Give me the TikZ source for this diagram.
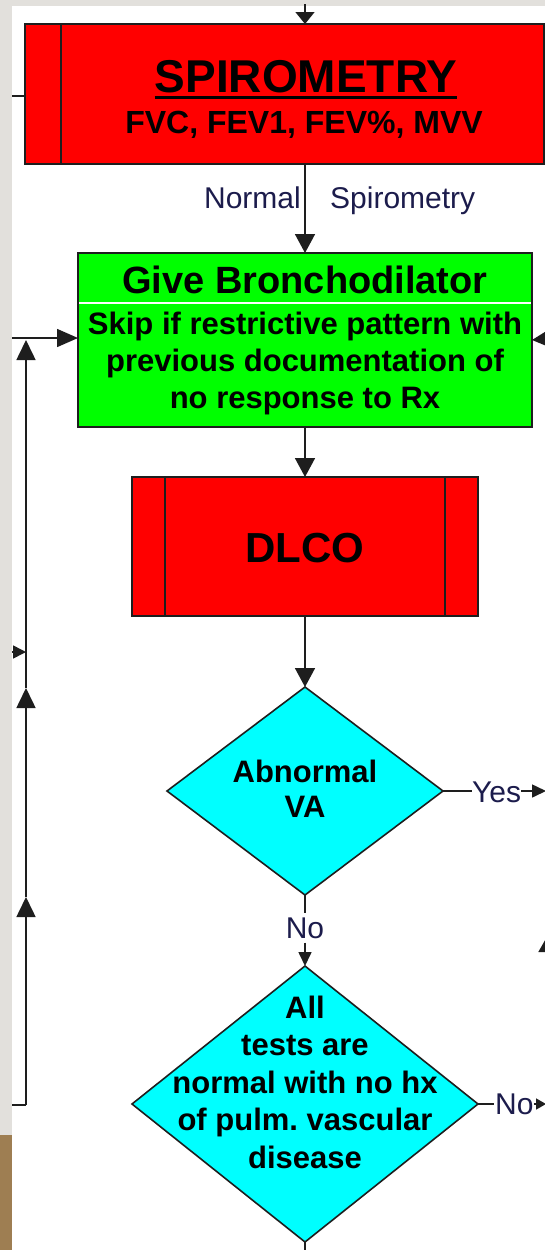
\documentclass[tikz,border=0pt]{standalone}
\usepackage{fontspec}
\setmainfont{Liberation Sans}
\usetikzlibrary{arrows.meta,shapes.geometric}
\definecolor{bggray}{HTML}{E2E0DC}
\definecolor{wood}{HTML}{9E7E52}
\definecolor{boxred}{HTML}{FF0000}
\definecolor{boxgreen}{HTML}{00FF00}
\definecolor{boxcyan}{HTML}{00FFFF}
\definecolor{lbl}{HTML}{1C1C4C}
\definecolor{ln}{HTML}{1E1E1E}
\newcommand{\fsz}[1]{\fontsize{#1}{#1}\selectfont}
\frenchspacing
\begin{document}
\begin{tikzpicture}[x=1pt,y=-1pt,
  conn/.style={draw=ln, line width=1.6pt},
  bigarr/.style={conn, -{Triangle[length=19pt,width=20pt]}},
  midarr/.style={conn, -{Triangle[length=14pt,width=13pt]}},
  procbox/.style={draw=ln, line width=1.6pt, inner sep=0, outer sep=0, anchor=north west},
  decbox/.style={diamond, draw=ln, line width=1.6pt, fill=boxcyan, inner sep=0, outer sep=0},
  bt/.style={inner sep=0, text=black, anchor=base},
  lt/.style={inner sep=0, text=lbl, font=\fsz{30}}
]
\useasboundingbox (0,0) rectangle (545,1250);
\clip (0,0) rectangle (545,1250);
% background
\fill[bggray] (0,0) rectangle (545,1250);
\fill[white] (12,6) rectangle (545,1250);
\fill[wood] (0,1135) rectangle (12,1250);

% SPIROMETRY box
\node[procbox, fill=boxred, minimum width=519pt, minimum height=140pt] (spiro) at (25,24) {};
\draw[conn] (61,24) -- (61,164);
\node[bt, font=\fsz{46}\bfseries] (spt) at (306,92) {SPIROMETRY};
\draw[black, line width=3.5pt] ([yshift=-5.5pt]spt.base west) -- ([yshift=-5.5pt]spt.base east);
\node[bt, font=\fsz{32}\bfseries] (spv) at (304,133) {FVC, FEV1, FEV\%, MVV};

% Give Bronchodilator box
\node[procbox, fill=boxgreen, minimum width=454pt, minimum height=174pt] (green) at (78,253) {};
\coordinate (divy) at (79,303);
\draw[white, line width=2pt] (divy) -- (531,303);
\node[bt, font=\fsz{38}\bfseries] (gt) at (305,293) {Give Bronchodilator};
\node[bt, font=\fsz{31}\bfseries] (g1) at (305,334) {Skip if restrictive pattern with};
\node[bt, font=\fsz{31}\bfseries] (g2) at (305,371) {previous documentation of};
\node[bt, font=\fsz{31}\bfseries] (g3) at (305,408) {no response to Rx};

% DLCO box
\node[procbox, fill=boxred, minimum width=346pt, minimum height=139pt] (dlco) at (132,477) {};
\draw[conn] (165,477) -- (165,616);
\draw[conn] (445,477) -- (445,616);
\node[bt, font=\fsz{42}\bfseries] (dt) at (305,562) {DLCO};

% Diamond 1
\node[decbox, minimum width=276pt, minimum height=208pt] (va) at (305,791) {};
\node[bt, font=\fsz{31}\bfseries] (va1) at (305,782) {Abnormal};
\node[bt, font=\fsz{31}\bfseries] (va2) at (305,817) {VA};

% Diamond 2
\node[decbox, minimum width=346pt, minimum height=276pt] (tst) at (305,1104) {};
\node[bt, font=\fsz{31}\bfseries] (t1) at (305,1018) {All};
\node[bt, font=\fsz{31}\bfseries] (t2) at (305,1055.5) {tests are};
\node[bt, font=\fsz{31}\bfseries] (t3) at (305,1093) {normal with no hx};
\node[bt, font=\fsz{31}\bfseries] (t4) at (305,1130.5) {of pulm. vascular};
\node[bt, font=\fsz{31}\bfseries] (t5) at (305,1168) {disease};

% main column connectors
\coordinate (topin) at (305,4);
\draw[conn, -{Triangle[length=12pt,width=19pt]}] (topin) -- (topin |- spiro.north);
\draw[bigarr] (green.north |- spiro.south) -- (green.north);
\node[lt, anchor=base east] (nrm) at (301,208) {Normal};
\node[lt, anchor=base west] (spr) at (330,208) {Spirometry};
\draw[bigarr] (green.south) -- (dlco.north);
\draw[bigarr] (dlco.south) -- (va.north);

% Yes branch
\node[lt, anchor=base west] (yes) at (472,802) {Yes};
\draw[conn] (va.east) -- (va.east -| yes.west);
\coordinate (yesend) at (546,791);
\draw[midarr] (yes.east |- va.east) -- (yesend);

% No branch down
\node[lt, anchor=base] (no1) at (305,938) {No};
\draw[conn] (va.south) -- ([yshift=4pt]no1.north);
\draw[midarr] ([yshift=-4pt]no1.south) -- (tst.north);

% No branch right
\node[lt, anchor=base west] (no2) at (495,1114) {No};
\draw[conn] (tst.east) -- ([xshift=-1pt]no2.west |- tst.east);
\coordinate (noend) at (546,1104);
\draw[conn, -{Triangle[length=10pt,width=11pt]}] (no2.east |- tst.east) -- (noend);
\coordinate (botend) at (305,1252);
\draw[conn] (tst.south) -- (botend);

% left side lines
\coordinate (lin) at (12,96);
\draw[conn] (lin) -- (lin -| spiro.west);
\coordinate (fbL) at (12,338);
\draw[conn, -{Triangle[length=21pt,width=18pt]}] (fbL) -- (fbL -| green.west);
\coordinate (fbB) at (12,1105);
\coordinate (fbC) at (26,1105);
\coordinate (m1) at (26,897);
\coordinate (m2) at (26,688);
\coordinate (m3) at (26,340);
\draw[conn] (fbB) -- (fbC);
\draw[conn, -{Triangle[length=20pt,width=19pt]}] (fbC) -- (m1);
\draw[conn, -{Triangle[length=20pt,width=19pt]}] (m1) -- (m2);
\draw[conn, -{Triangle[length=20pt,width=19pt]}] (m2) -- (m3);
\coordinate (sm) at (12,652);
\coordinate (smE) at (26,652);
\draw[conn, -{Triangle[length=13pt,width=13pt]}] (sm) -- (smE);

% right side partial arrows
\coordinate (rin) at (556,338);
\draw[conn, -{Triangle[length=17pt,width=17pt]}] (rin) -- (green.east);
\coordinate (ru1) at (548,1000);
\coordinate (ru2) at (548,935);
\draw[conn, -{Triangle[length=17pt,width=19pt]}] (ru1) -- (ru2);
\end{tikzpicture}
\end{document}
